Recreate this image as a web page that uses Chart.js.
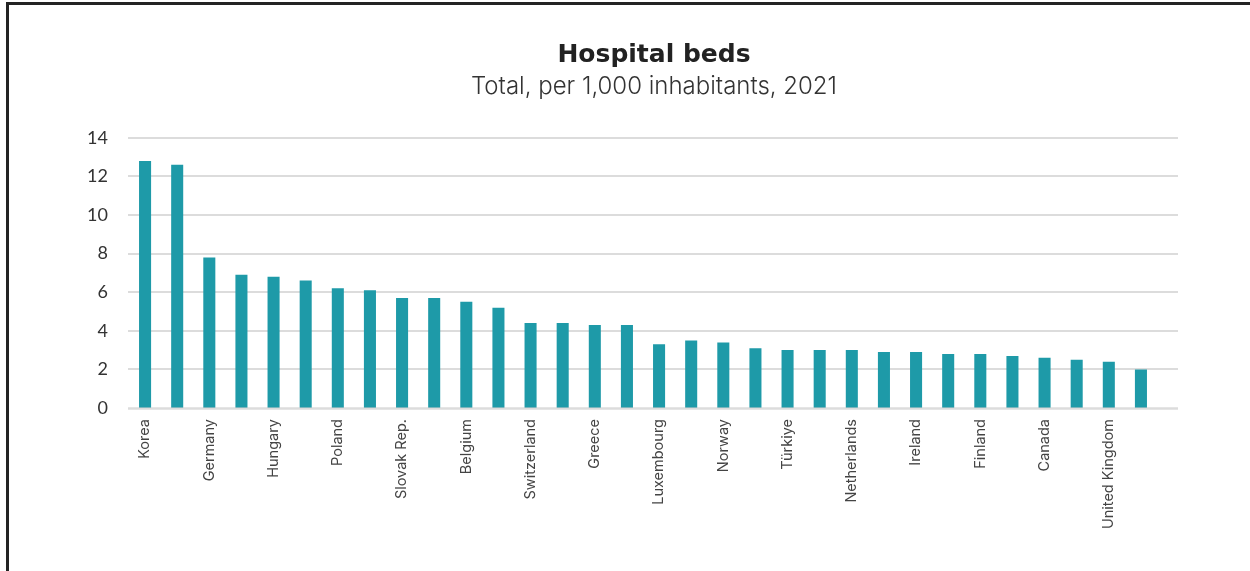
<!DOCTYPE html>
<html>
<head>
<meta charset="utf-8">
<title>Hospital beds</title>
<script src="https://cdn.jsdelivr.net/npm/chart.js@4.4.1/dist/chart.umd.min.js"></script>
<style>
  html, body { margin: 0; padding: 0; background: #fff; overflow: hidden; }
  body { width: 1250px; height: 571px; position: relative; }
  .frame {
    position: absolute; left: 6px; top: 2px; width: 1400px; height: 700px;
    border-top: 3px solid #232323; border-left: 3px solid #232323;
  }
  .wrap { position: absolute; left: 58px; top: 0; width: 1192px; height: 571px; }
</style>
</head>
<body>
<div class="frame"></div>
<div class="wrap"><canvas id="chart"></canvas></div>
<script>
// Hospital beds per 1,000 inhabitants, 2021
const countries = [
  'Korea', 'Japan', 'Germany', 'Austria', 'Hungary', 'Czech Republic', 'Poland', 'Lithuania',
  'Slovak Rep.', 'France', 'Belgium', 'Latvia', 'Switzerland', 'Estonia', 'Greece', 'Slovenia',
  'Luxembourg', 'Portugal', 'Norway', 'Italy', 'Türkiye', 'Spain', 'Netherlands', 'Israel',
  'Ireland', 'United States', 'Finland', 'Iceland', 'Canada', 'New Zealand', 'United Kingdom', 'Sweden'
];
const beds = [
  12.8, 12.6, 7.8, 6.9, 6.8, 6.6, 6.2, 6.1,
  5.7, 5.7, 5.5, 5.2, 4.4, 4.4, 4.3, 4.3,
  3.3, 3.5, 3.4, 3.1, 3.0, 3.0, 3.0, 2.9,
  2.9, 2.8, 2.8, 2.7, 2.6, 2.5, 2.4, 2.0
];
const yTicks = [0, 2, 4, 6, 8, 10, 12, 14];

const FONT = 'Lato, "Open Sans", sans-serif';
const LABEL_FONT = 'Inter, "Open Sans", sans-serif';
const TITLE_FONT = '"DejaVu Sans", Inter, sans-serif';

// Horizontal grid lines drawn behind the bars, running a little past the last category
const gridPlugin = {
  id: 'bedGrid',
  beforeDatasetsDraw(chart) {
    const { ctx, chartArea, scales } = chart;
    ctx.save();
    ctx.strokeStyle = '#dcdcdc';
    ctx.lineWidth = 2;
    yTicks.forEach(v => {
      if (v === 0) return;
      const y = Math.round(scales.y.getPixelForValue(v));
      ctx.beginPath();
      ctx.moveTo(chartArea.left - 1, y);
      ctx.lineTo(chartArea.right + 21, y);
      ctx.stroke();
    });
    ctx.restore();
  },
  afterDatasetsDraw(chart) {
    // baseline sits on top of the bar feet
    const { ctx, chartArea, scales } = chart;
    const y = scales.y.getPixelForValue(0) + 0.5;
    ctx.save();
    ctx.strokeStyle = 'rgba(205,205,205,0.7)';
    ctx.lineWidth = 2.5;
    ctx.beginPath();
    ctx.moveTo(chartArea.left - 1, y);
    ctx.lineTo(chartArea.right + 21, y);
    ctx.stroke();
    ctx.restore();
  }
};

new Chart(document.getElementById('chart'), {
  type: 'bar',
  data: {
    labels: countries,
    datasets: [{
      data: beds,
      backgroundColor: '#1e9aa8',
      borderWidth: 0,
      barPercentage: 0.375,
      categoryPercentage: 1
    }]
  },
  plugins: [gridPlugin],
  options: {
    responsive: true,
    maintainAspectRatio: false,
    animation: false,
    layout: { padding: 0 },
    plugins: {
      legend: { display: false },
      tooltip: { enabled: false },
      title: {
        display: true,
        text: 'Hospital beds',
        color: '#222',
        font: { family: TITLE_FONT, size: 25, weight: 'bold', lineHeight: 1.2 },
        padding: { top: 40, bottom: 2 }
      },
      subtitle: {
        display: true,
        text: 'Total, per 1,000 inhabitants, 2021',
        color: '#333',
        font: { family: LABEL_FONT, size: 24, weight: 300, lineHeight: 1.2 },
        padding: { top: 0, bottom: 37 }
      }
    },
    scales: {
      x: {
        grid: { display: false, drawTicks: false },
        border: { display: false },
        afterFit(scale) { scale.height = 163; },
        ticks: {
          autoSkip: false,
          minRotation: 90,
          maxRotation: 90,
          padding: 11,
          color: '#444',
          font: { family: LABEL_FONT, size: 14.5 },
          callback: (v, i) => (i % 2 === 0 ? countries[i] : '')
        }
      },
      y: {
        min: 0,
        max: 14,
        grid: { display: false, drawTicks: false },
        border: { display: false },
        afterFit(scale) { scale.width = 71; },
        afterBuildTicks(scale) { scale.ticks = yTicks.map(v => ({ value: v })); },
        ticks: {
          padding: 21,
          color: '#333',
          font: { family: FONT, size: 18 }
        }
      },
      // empty right-hand gutter so the headings stay centred over the full plot width
      gutter: {
        type: 'linear',
        position: 'right',
        grid: { display: false, drawTicks: false },
        border: { display: false },
        ticks: { display: false },
        afterFit(scale) { scale.width = 93; }
      }
    }
  }
});
</script>
</body>
</html>
